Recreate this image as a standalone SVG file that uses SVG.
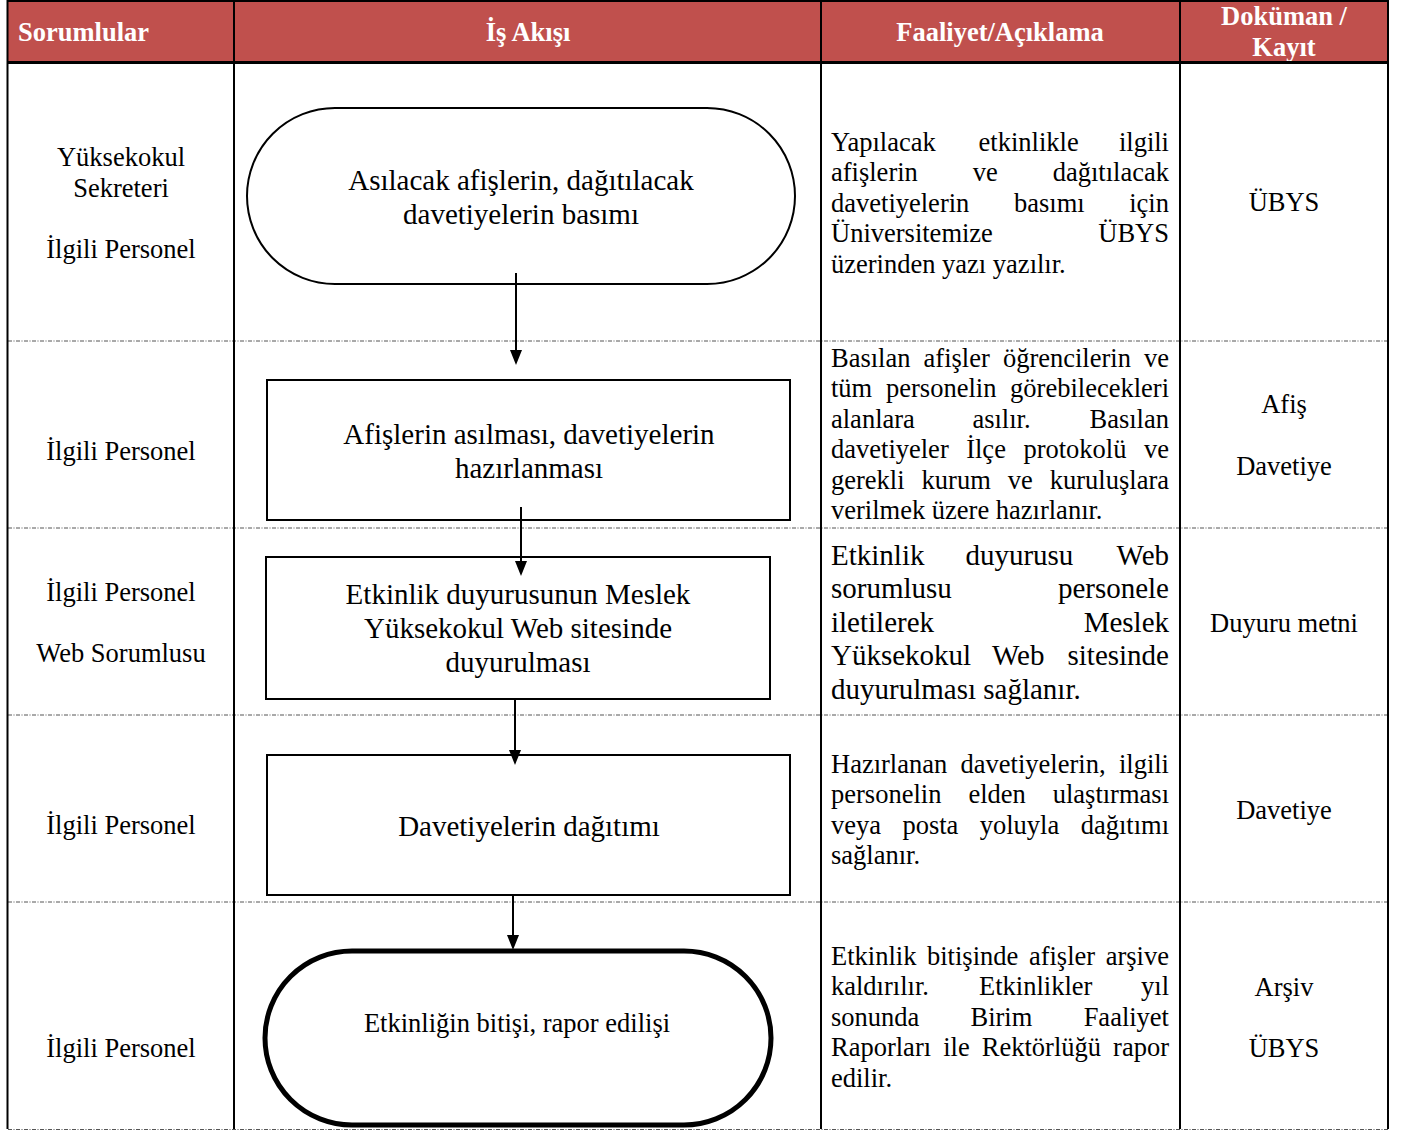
<svg xmlns="http://www.w3.org/2000/svg" width="1406" height="1131" viewBox="0 0 1406 1131">
<style>
.hd{font-family:"Liberation Serif","Times New Roman",serif;font-weight:bold;font-size:26.5px;fill:#fff}
.t{font-family:"Liberation Serif","Times New Roman",serif;font-size:26.5px;fill:#000}
.tl{font-family:"Liberation Serif","Times New Roman",serif;font-size:29px;fill:#000}
.c{text-anchor:middle}
.e{text-anchor:end}
.grid{stroke:#000;stroke-width:2;fill:none}
.dash{stroke:#555;stroke-width:1;stroke-dasharray:4 1.5 1 1.5;fill:none}
.node{fill:#fff;stroke:#000;stroke-width:2}
.conn line{stroke:#000;stroke-width:2}
</style>
<defs>
<marker id="ah" markerUnits="userSpaceOnUse" markerWidth="15" markerHeight="12" viewBox="0 0 15 12" refX="11" refY="6" orient="auto">
<path d="M0,0 L15,6 L0,12 z" fill="#000"/>
</marker>
</defs>
<rect width="1406" height="1131" fill="#fff"/>
<!-- header -->
<g id="header">
<rect x="8" y="1" width="1380" height="61.5" fill="#C0504D"/>
<text class="hd" x="18" y="41">Sorumlular</text>
<text class="hd c" x="528" y="41">İş Akışı</text>
<text class="hd c" x="1000" y="41">Faaliyet/Açıklama</text>
<text class="hd c" x="1284" y="25">Doküman /</text>
<text class="hd c" x="1284" y="56">Kayıt</text>
</g>
<!-- grid -->
<g id="grid">
<line class="dash" x1="8" y1="341" x2="1388" y2="341"/>
<line class="dash" x1="8" y1="528" x2="1388" y2="528"/>
<line class="dash" x1="8" y1="715" x2="1388" y2="715"/>
<line class="dash" x1="8" y1="902" x2="1388" y2="902"/>
<line class="dash" x1="8" y1="1129.5" x2="1388" y2="1129.5"/>
<line class="grid" x1="8" y1="1" x2="1388" y2="1"/>
<line class="grid" x1="8" y1="62.5" x2="1388" y2="62.5" style="stroke-width:3"/>
<line class="grid" x1="7.5" y1="0" x2="7.5" y2="1129"/>
<line class="grid" x1="234" y1="0" x2="234" y2="1129"/>
<line class="grid" x1="821" y1="0" x2="821" y2="1129"/>
<line class="grid" x1="1180" y1="0" x2="1180" y2="1129"/>
<line class="grid" x1="1388" y1="0" x2="1388" y2="1129"/>
</g>
<!-- responsibles -->
<g id="responsibles">
<text class="t c" x="121" y="165.5">Yüksekokul</text>
<text class="t c" x="121" y="196.5">Sekreteri</text>
<text class="t c" x="121" y="257.5">İlgili Personel</text>
<text class="t c" x="121" y="459.5">İlgili Personel</text>
<text class="t c" x="121" y="600.5">İlgili Personel</text>
<text class="t c" x="121" y="661.5">Web Sorumlusu</text>
<text class="t c" x="121" y="833.5">İlgili Personel</text>
<text class="t c" x="121" y="1056.5">İlgili Personel</text>
</g>
<!-- documents -->
<g id="documents">
<text class="t c" x="1284" y="210.5">ÜBYS</text>
<text class="t c" x="1284" y="412.5">Afiş</text>
<text class="t c" x="1284" y="474.5">Davetiye</text>
<text class="t c" x="1284" y="631.5">Duyuru metni</text>
<text class="t c" x="1284" y="818.5">Davetiye</text>
<text class="t c" x="1284" y="995.5">Arşiv</text>
<text class="t c" x="1284" y="1056.5">ÜBYS</text>
</g>
<!-- descriptions -->
<g id="desc1">
<text class="t" x="831" y="150.5">Yapılacak</text><text class="t" x="978.6" y="150.5">etkinlikle</text><text class="t e" x="1169" y="150.5">ilgili</text>
<text class="t" x="831" y="181">afişlerin</text><text class="t" x="972.8" y="181">ve</text><text class="t e" x="1169" y="181">dağıtılacak</text>
<text class="t" x="831" y="211.5">davetiyelerin</text><text class="t" x="1014" y="211.5">basımı</text><text class="t e" x="1169" y="211.5">için</text>
<text class="t" x="831" y="242">Üniversitemize</text><text class="t e" x="1169" y="242">ÜBYS</text>
<text class="t" x="831" y="272.5">üzerinden yazı yazılır.</text>
</g>
<g id="desc2">
<text class="t" x="831" y="366.5">Basılan</text><text class="t" x="923.6" y="366.5">afişler</text><text class="t" x="1002.9" y="366.5">öğrencilerin</text><text class="t e" x="1169" y="366.5">ve</text>
<text class="t" x="831" y="397">tüm</text><text class="t" x="886" y="397">personelin</text><text class="t e" x="1169" y="397">görebilecekleri</text>
<text class="t" x="831" y="427.5">alanlara</text><text class="t" x="972.4" y="427.5">asılır.</text><text class="t e" x="1169" y="427.5">Basılan</text>
<text class="t" x="831" y="458">davetiyeler</text><text class="t" x="966.2" y="458">İlçe</text><text class="t" x="1023.4" y="458">protokolü</text><text class="t e" x="1169" y="458">ve</text>
<text class="t" x="831" y="488.5">gerekli</text><text class="t" x="921.6" y="488.5">kurum</text><text class="t" x="1007.8" y="488.5">ve</text><text class="t e" x="1169" y="488.5">kuruluşlara</text>
<text class="t" x="831" y="519">verilmek üzere hazırlanır.</text>
</g>
<g id="desc3">
<text class="tl" x="831" y="564.5">Etkinlik</text><text class="tl" x="965.4" y="564.5">duyurusu</text><text class="tl e" x="1169" y="564.5">Web</text>
<text class="tl" x="831" y="598">sorumlusu</text><text class="tl e" x="1169" y="598">personele</text>
<text class="tl" x="831" y="631.5">iletilerek</text><text class="tl e" x="1169" y="631.5">Meslek</text>
<text class="tl" x="831" y="665">Yüksekokul</text><text class="tl" x="992" y="665">Web</text><text class="tl e" x="1169" y="665">sitesinde</text>
<text class="tl" x="831" y="698.5">duyurulması sağlanır.</text>
</g>
<g id="desc4">
<text class="t" x="831" y="772.5">Hazırlanan</text><text class="t" x="960.6" y="772.5">davetiyelerin,</text><text class="t e" x="1169" y="772.5">ilgili</text>
<text class="t" x="831" y="803">personelin</text><text class="t" x="968.4" y="803">elden</text><text class="t e" x="1169" y="803">ulaştırması</text>
<text class="t" x="831" y="833.5">veya</text><text class="t" x="902.4" y="833.5">posta</text><text class="t" x="979.7" y="833.5">yoluyla</text><text class="t e" x="1169" y="833.5">dağıtımı</text>
<text class="t" x="831" y="864">sağlanır.</text>
</g>
<g id="desc5">
<text class="t" x="831" y="964.5">Etkinlik</text><text class="t" x="927" y="964.5">bitişinde</text><text class="t" x="1028.9" y="964.5">afişler</text><text class="t e" x="1169" y="964.5">arşive</text>
<text class="t" x="831" y="995">kaldırılır.</text><text class="t" x="979" y="995">Etkinlikler</text><text class="t e" x="1169" y="995">yıl</text>
<text class="t" x="831" y="1025.5">sonunda</text><text class="t" x="970.5" y="1025.5">Birim</text><text class="t e" x="1169" y="1025.5">Faaliyet</text>
<text class="t" x="831" y="1056">Raporları</text><text class="t" x="943.2" y="1056">ile</text><text class="t" x="981.8" y="1056">Rektörlüğü</text><text class="t e" x="1169" y="1056">rapor</text>
<text class="t" x="831" y="1086.5">edilir.</text>
</g>
<!-- nodes -->
<g id="node1">
<rect class="node" x="247" y="108" width="548" height="176" rx="88" ry="88"/>
<text class="tl c" x="521" y="189.5">Asılacak afişlerin, dağıtılacak</text>
<text class="tl c" x="521" y="223.5">davetiyelerin basımı</text>
</g>
<g id="node2">
<rect class="node" x="267" y="380" width="523" height="140"/>
<text class="tl c" x="529" y="443.5">Afişlerin asılması, davetiyelerin</text>
<text class="tl c" x="529" y="477.5">hazırlanması</text>
</g>
<g id="node3">
<rect class="node" x="266" y="557" width="504" height="142"/>
<text class="tl c" x="518" y="603.5">Etkinlik duyurusunun Meslek</text>
<text class="tl c" x="518" y="637.5">Yüksekokul Web sitesinde</text>
<text class="tl c" x="518" y="671.5">duyurulması</text>
</g>
<g id="node4">
<rect class="node" x="267" y="755" width="523" height="140"/>
<text class="tl c" x="529" y="835.5">Davetiyelerin dağıtımı</text>
</g>
<g id="node5">
<rect class="node" x="265" y="951" width="506" height="174" rx="87" ry="87" style="stroke-width:5"/>
<text class="t c" x="517" y="1032">Etkinliğin bitişi, rapor edilişi</text>
</g>
<!-- connectors -->
<g id="connectors" class="conn">
<line x1="516" y1="273" x2="516" y2="361" marker-end="url(#ah)"/>
<line x1="521" y1="507" x2="521" y2="572" marker-end="url(#ah)"/>
<line x1="515" y1="699" x2="515" y2="761" marker-end="url(#ah)"/>
<line x1="513" y1="895" x2="513" y2="946" marker-end="url(#ah)"/>
</g>
</svg>
